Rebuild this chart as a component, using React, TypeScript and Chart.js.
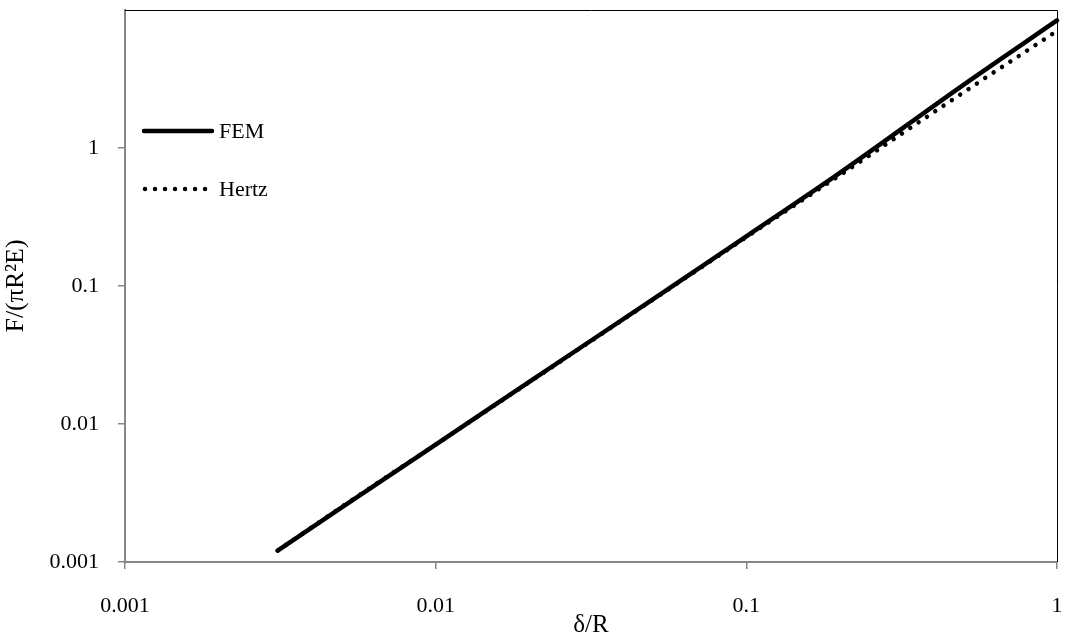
import React, { useEffect, useRef } from "react";
import { Chart, registerables } from "chart.js";

Chart.register(...registerables);

const xValues = [0.0031, 0.005, 0.01, 0.02, 0.05, 0.1, 0.2, 0.5, 1];
const femValues = [0.00121, 0.0025, 0.0071, 0.0202, 0.08, 0.229, 0.66, 2.87, 8.4];
const hertzValues = [0.00121, 0.00252, 0.0071, 0.0201, 0.0795, 0.226, 0.635, 2.53, 7.05];
const xTicks = [0.001, 0.01, 0.1, 1];
const yTicks = [0.001, 0.01, 0.1, 1, 10];
const yLabels = ["0.001", "0.01", "0.1", "1", ""];
const xLabels = ["0.001", "0.01", "0.1", "1"];
const seriesNames = ["FEM", "Hertz"];

const FONT = "'Liberation Serif', 'Times New Roman', serif";
const AXIS_GRAY = "#868686";

const legendPlugin = {
  id: "customLegend",
  afterDatasetsDraw(chart: any) {
    const { ctx, chartArea } = chart;
    ctx.save();
    // top and right border
    ctx.strokeStyle = "#000";
    ctx.lineWidth = 1;
    ctx.beginPath();
    ctx.moveTo(chartArea.left, chartArea.top + 0.5);
    ctx.lineTo(chartArea.right + 0.5, chartArea.top + 0.5);
    ctx.lineTo(chartArea.right + 0.5, chartArea.bottom);
    ctx.stroke();

    const x0 = chartArea.left + 19;
    const x1 = chartArea.left + 87;
    const tx = chartArea.left + 94;
    const rows = [chartArea.top + 121, chartArea.top + 179];
    ctx.lineCap = "round";
    ctx.strokeStyle = "#000";
    // FEM
    ctx.lineWidth = 4.5;
    ctx.setLineDash([]);
    ctx.beginPath();
    ctx.moveTo(x0, rows[0]);
    ctx.lineTo(x1, rows[0]);
    ctx.stroke();
    // Hertz
    ctx.lineWidth = 4.5;
    ctx.setLineDash([0.01, 10]);
    ctx.beginPath();
    ctx.moveTo(x0 + 1, rows[1]);
    ctx.lineTo(x1 - 2, rows[1]);
    ctx.stroke();
    ctx.setLineDash([]);
    ctx.fillStyle = "#000";
    ctx.font = `22px ${FONT}`;
    ctx.textBaseline = "middle";
    ctx.textAlign = "left";
    ctx.fillText(seriesNames[0], tx, rows[0] + 1);
    ctx.fillText(seriesNames[1], tx, rows[1] + 1);
    ctx.restore();
  },
};

export default function App() {
  const ref = useRef<HTMLCanvasElement>(null);
  useEffect(() => {
    document.body.style.margin = "0";
    if (!ref.current) return;
    const chart = new Chart(ref.current, {
      type: "line",
      data: {
        datasets: [
          {
            label: seriesNames[0],
            data: xValues.map((x, i) => ({ x, y: femValues[i] })),
            borderColor: "#000",
            borderWidth: 4.5,
            borderCapStyle: "round",
            borderJoinStyle: "round",
            pointRadius: 0,
            fill: false,
            clip: false as any,
            cubicInterpolationMode: "monotone",
          },
          {
            label: seriesNames[1],
            data: xValues.map((x, i) => ({ x, y: hertzValues[i] })),
            borderColor: "#000",
            borderWidth: 4.5,
            borderDash: [0.01, 10],
            borderCapStyle: "round",
            pointRadius: 0,
            fill: false,
            clip: false as any,
            cubicInterpolationMode: "monotone",
          },
        ],
      },
      options: {
        responsive: false,
        animation: false,
        layout: { padding: 0 },
        plugins: { legend: { display: false }, tooltip: { enabled: false } },
        scales: {
          x: {
            type: "logarithmic",
            min: 0.001,
            max: 1,
            afterBuildTicks: (scale: any) => {
              scale.ticks = xTicks.map((v) => ({ value: v }));
            },
            afterFit: (scale: any) => {
              scale.height = 78;
              scale.paddingLeft = 0;
              scale.paddingRight = 11;
            },
            ticks: {
              color: "#000",
              font: { family: FONT, size: 22 },
              padding: 24,
              maxRotation: 0,
              autoSkip: false,
              callback: (v: any) => {
                const i = xTicks.indexOf(Number(v));
                return i >= 0 ? xLabels[i] : "";
              },
            },
            grid: {
              display: true,
              drawOnChartArea: false,
              drawTicks: true,
              tickLength: 7,
              color: AXIS_GRAY,
              lineWidth: 1.5,
            },
            border: { display: true, color: AXIS_GRAY, width: 2 },
            title: {
              display: true,
              text: "δ/R",
              color: "#000",
              font: { family: FONT, size: 25 },
              padding: { top: 0, bottom: 0 },
            },
          },
          y: {
            type: "logarithmic",
            min: 0.001,
            max: 10,
            afterBuildTicks: (scale: any) => {
              scale.ticks = yTicks.map((v) => ({ value: v }));
            },
            afterFit: (scale: any) => {
              scale.width = 125;
              scale.paddingTop = 10;
              scale.paddingBottom = 0;
            },
            ticks: {
              color: "#000",
              font: { family: FONT, size: 22 },
              padding: 19,
              autoSkip: false,
              callback: (v: any) => {
                const i = yTicks.indexOf(Number(v));
                return i >= 0 ? yLabels[i] : "";
              },
            },
            grid: {
              display: true,
              drawOnChartArea: false,
              drawTicks: true,
              tickLength: 7,
              color: (ctx: any) => (ctx.tick && ctx.tick.value === 10 ? "rgba(0,0,0,0)" : AXIS_GRAY),
              lineWidth: 1.5,
            },
            border: { display: true, color: AXIS_GRAY, width: 2 },
            title: {
              display: true,
              text: "F/(πR²E)",
              color: "#000",
              font: { family: FONT, size: 26 },
              padding: { top: 1, bottom: 0 },
            },
          },
        },
      },
      plugins: [legendPlugin],
    } as any);
    return () => chart.destroy();
  }, []);
  return <canvas ref={ref} width={1068} height={640} style={{ display: "block" }} />;
}
